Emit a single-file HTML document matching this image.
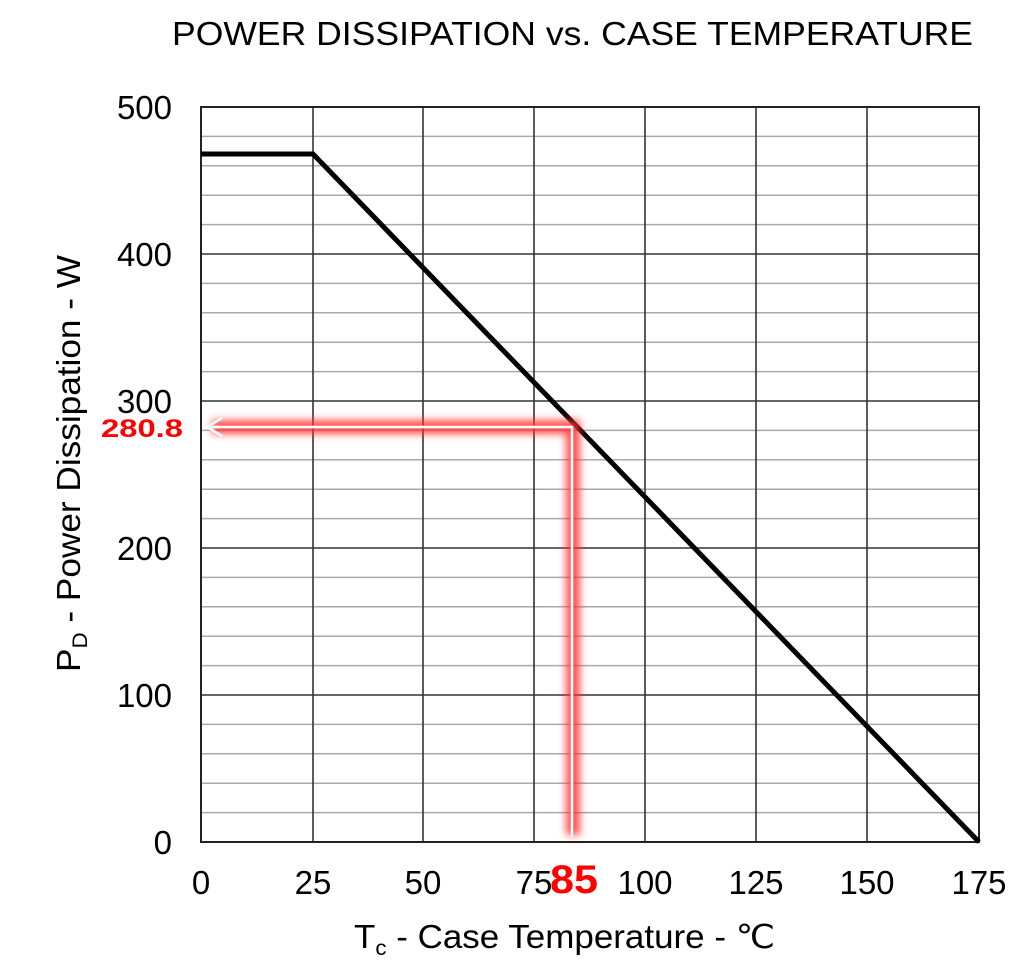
<!DOCTYPE html>
<html><head><style>
body{margin:0;background:#fff;}
svg text{font-family:"Liberation Sans",sans-serif;}
</style></head><body>
<svg width="1024" height="963" xmlns="http://www.w3.org/2000/svg">
<defs><filter id="g" x="-20%" y="-20%" width="140%" height="140%"><feGaussianBlur stdDeviation="4"/></filter></defs>
<text x="172" y="45" font-size="33" textLength="801" lengthAdjust="spacingAndGlyphs" fill="#000">POWER DISSIPATION vs. CASE TEMPERATURE</text>
<g stroke="#aaa" stroke-width="1.5">
<line x1="201" x2="979" y1="136.4" y2="136.4"/><line x1="201" x2="979" y1="165.8" y2="165.8"/><line x1="201" x2="979" y1="195.2" y2="195.2"/><line x1="201" x2="979" y1="224.6" y2="224.6"/>
<line x1="201" x2="979" y1="283.4" y2="283.4"/><line x1="201" x2="979" y1="312.8" y2="312.8"/><line x1="201" x2="979" y1="342.2" y2="342.2"/><line x1="201" x2="979" y1="371.6" y2="371.6"/>
<line x1="201" x2="979" y1="430.4" y2="430.4"/><line x1="201" x2="979" y1="459.8" y2="459.8"/><line x1="201" x2="979" y1="489.2" y2="489.2"/><line x1="201" x2="979" y1="518.6" y2="518.6"/>
<line x1="201" x2="979" y1="577.4" y2="577.4"/><line x1="201" x2="979" y1="606.8" y2="606.8"/><line x1="201" x2="979" y1="636.2" y2="636.2"/><line x1="201" x2="979" y1="665.6" y2="665.6"/>
<line x1="201" x2="979" y1="724.4" y2="724.4"/><line x1="201" x2="979" y1="753.8" y2="753.8"/><line x1="201" x2="979" y1="783.2" y2="783.2"/><line x1="201" x2="979" y1="812.6" y2="812.6"/>
</g>
<g stroke="#333" stroke-width="1.6">
<line x1="201" x2="979" y1="254" y2="254"/><line x1="201" x2="979" y1="401" y2="401"/><line x1="201" x2="979" y1="548" y2="548"/><line x1="201" x2="979" y1="695" y2="695"/>
<line x1="313" x2="313" y1="107" y2="842"/><line x1="423" x2="423" y1="107" y2="842"/><line x1="534" x2="534" y1="107" y2="842"/><line x1="645" x2="645" y1="107" y2="842"/><line x1="756" x2="756" y1="107" y2="842"/><line x1="867" x2="867" y1="107" y2="842"/>
</g>
<rect x="201" y="107" width="778" height="735" fill="none" stroke="#222" stroke-width="2"/>
<polyline points="201,154 313,154 979,842" fill="none" stroke="#000" stroke-width="5"/>
<g filter="url(#g)" stroke="#ff3030" stroke-width="14" fill="none" opacity="0.85">
<polyline points="212,427 573,427 573,835"/>
</g>
<polyline points="207,427 572,427 572,837" fill="none" stroke="#fff" stroke-width="2.5"/>
<polyline points="222,418 207,427 222,436" fill="none" stroke="#fff" stroke-width="2.5"/>
<g font-size="33" fill="#000" text-anchor="end">
<text x="172" y="119">500</text><text x="172" y="266">400</text><text x="172" y="413">300</text><text x="172" y="560">200</text><text x="172" y="707">100</text><text x="172" y="854">0</text>
</g>
<g font-size="33" fill="#000" text-anchor="middle">
<text x="201" y="894">0</text><text x="313" y="894">25</text><text x="423" y="894">50</text><text x="534" y="894">75</text><text x="645" y="894">100</text><text x="756" y="894">125</text><text x="867" y="894">150</text><text x="979" y="894">175</text>
</g>
<text x="550" y="893" font-size="40" font-weight="bold" fill="#f00" textLength="48" lengthAdjust="spacingAndGlyphs">85</text>
<text x="101" y="437" font-size="25" font-weight="bold" fill="#f00" textLength="82" lengthAdjust="spacingAndGlyphs">280.8</text>
<text x="354" y="948" font-size="33" fill="#000" textLength="421" lengthAdjust="spacingAndGlyphs">T<tspan font-size="21" dy="7">c</tspan><tspan dy="-7"> - Case Temperature - ℃</tspan></text>
<text transform="translate(80,672) rotate(-90)" font-size="33" fill="#000" textLength="417" lengthAdjust="spacingAndGlyphs">P<tspan font-size="21" dy="7">D</tspan><tspan dy="-7"> - Power Dissipation - W</tspan></text>
</svg>
</body></html>
